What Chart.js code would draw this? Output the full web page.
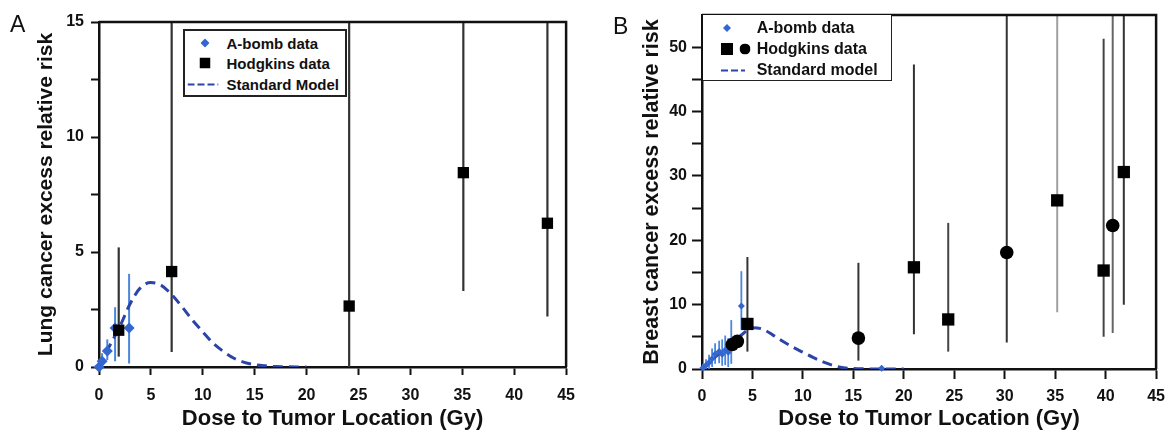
<!DOCTYPE html>
<html>
<head>
<meta charset="utf-8">
<script src="https://cdn.jsdelivr.net/npm/chart.js@4.4.1/dist/chart.umd.min.js"></script>
<style>
  html, body { margin:0; padding:0; background:#fff; }
  body { width:1173px; height:430px; position:relative; overflow:hidden; font-family:"Liberation Sans", Arial, sans-serif; }
  canvas { position:absolute; top:0; }
  #chartA { left:0; }
  #chartB { left:586px; }
  .panel { position:absolute; font-size:23px; line-height:23px; color:#111; }
  .legend { position:absolute; background:#fff; box-sizing:border-box; font-weight:bold; color:#111; }
  .legend .row { position:absolute; left:0; right:0; height:20px; }
  .legend .sym { position:absolute; top:50%; transform:translate(-50%,-50%); line-height:0; }
  .legend .txt { position:absolute; top:50%; transform:translateY(-50%); white-space:nowrap; }
</style>
</head>
<body>
<canvas id="chartA" width="586" height="430"></canvas>
<canvas id="chartB" width="587" height="430"></canvas>
<div class="panel" style="left:10px;top:13px;">A</div>
<div class="panel" style="left:613px;top:15px;">B</div>
<div class="legend" id="legendA" style="left:183px;top:29px;width:164px;height:68px;border:2px solid #222;font-size:15px;"></div>
<div class="legend" id="legendB" style="left:703px;top:15px;width:189px;height:66px;border-right:1.5px solid #222;border-bottom:1.5px solid #222;font-size:16px;"></div>
<script>
// ---- Panel A: lung cancer ----
const lungHodgkinsDose = [1.9, 7.0, 24.1, 35.1, 43.2];
const lungHodgkinsRisk = [1.6, 4.15, 2.65, 8.45, 6.25];
const lungHodgkinsLo   = [0.45, 0.65, 0, 3.3, 2.2];
const lungHodgkinsHi   = [5.2, 15, 15, 15, 15];

const lungBombDose = [0, 0.3, 0.8, 1.55, 2.9];
const lungBombRisk = [0, 0.25, 0.7, 1.7, 1.7];
const lungBombLo   = [null, 0, 0.3, 0.25, 0.15];
const lungBombHi   = [null, 0.6, 1.2, 2.6, 4.05];

const lungModelDose = [0, 1, 2, 3, 4, 5, 6, 7, 8, 9, 10, 11, 12, 13, 14, 15, 16, 17, 18, 19, 20];
const lungModelRisk = [0, 0.9, 1.75, 2.75, 3.45, 3.67, 3.55, 3.15, 2.62, 2.04, 1.53, 1.03, 0.67, 0.38, 0.2, 0.1, 0.05, 0.02, 0.01, 0, 0];

// ---- Panel B: breast cancer ----
const breastSqDose = [4.5, 21.0, 24.4, 35.2, 39.8, 41.8];
const breastSqRisk = [7.0, 15.8, 7.7, 26.2, 15.3, 30.6];
const breastSqLo   = [2.7, 5.4, 2.7, 8.8, 5.0, 10.0];
const breastSqHi   = [17.4, 47.3, 22.7, 55, 51.3, 55];
const breastSqErrColor = ['#333', '#333', '#444', '#a0a0a0', '#444', '#333'];

const breastCircDose = [3.0, 3.5, 15.5, 30.2, 40.7];
const breastCircRisk = [3.8, 4.3, 4.8, 18.1, 22.3];
const breastCircLo   = [null, null, 1.3, 4.1, 5.6];
const breastCircHi   = [null, null, 16.5, 55, 55];
const breastCircErrColor = ['#333', '#333', '#333', '#333', '#666'];

const breastBombDose = [0.1, 0.4, 0.7, 1.0, 1.3, 1.7, 2.0, 2.3, 2.6, 2.9, 3.9, 17.8];
const breastBombRisk = [0.2, 0.6, 1.0, 1.6, 2.3, 2.7, 2.3, 2.9, 2.6, 3.6, 9.8, 0.1];
const breastBombLo   = [0, 0, 0, 0.3, 0.8, 0.9, 0.5, 0.6, 0.3, 0.8, 6.1, null];
const breastBombHi   = [0.8, 1.5, 2.2, 3.2, 4.0, 4.4, 4.6, 5.2, 4.8, 7.6, 15.2, null];

const breastModelDose = [0, 1, 2, 3, 4, 5, 6, 7, 8, 9, 10, 11, 12, 13, 14, 15, 16, 17, 18, 19, 20];
const breastModelRisk = [0, 1.4, 2.8, 4.1, 5.4, 6.4, 6.2, 5.3, 4.3, 3.4, 2.6, 1.8, 1.1, 0.55, 0.2, 0.07, 0.02, 0.01, 0, 0, 0];

const BOMB_COLOR = '#3466d0';
const BOMB_ERR = '#4a86de';
const MODEL_COLOR = '#2c44a8';
const INK = '#111';

Chart.defaults.font.family = '"Liberation Sans", Arial, sans-serif';
Chart.defaults.color = INK;

const pts = (xs, ys) => xs.map((x, i) => ({ x, y: ys[i] }));

// vertical error bars drawn through the chart's own scales
const errorBars = {
  id: 'errorBars',
  beforeDatasetsDraw(chart) {
    const { ctx, chartArea: a, scales: { x, y } } = chart;
    ctx.save();
    ctx.beginPath();
    ctx.rect(a.left, a.top, a.width, a.height);
    ctx.clip();
    chart.data.datasets.forEach(ds => {
      if (!ds.errLo) return;
      ctx.lineWidth = ds.errWidth || 2;
      ds.data.forEach((p, j) => {
        if (ds.errLo[j] == null) return;
        const px = x.getPixelForValue(p.x);
        ctx.strokeStyle = Array.isArray(ds.errColor) ? ds.errColor[j] : ds.errColor;
        ctx.beginPath();
        ctx.moveTo(px, y.getPixelForValue(ds.errLo[j]));
        ctx.lineTo(px, y.getPixelForValue(ds.errHi[j]));
        ctx.stroke();
      });
    });
    ctx.restore();
  }
};

// top + right edges of the plot box
const frame = {
  id: 'frame',
  afterDraw(chart) {
    const { ctx, chartArea: a } = chart;
    ctx.save();
    ctx.strokeStyle = INK;
    ctx.lineWidth = 2.5;
    ctx.beginPath();
    ctx.moveTo(a.left, a.top);
    ctx.lineTo(a.right, a.top);
    ctx.lineTo(a.right, a.bottom);
    ctx.stroke();
    ctx.restore();
  }
};

function buildPanel(id, p) {
  return new Chart(document.getElementById(id), {
    type: 'scatter',
    data: { datasets: p.datasets },
    options: {
      responsive: false,
      animation: false,
      layout: { padding: p.padding },
      plugins: { legend: { display: false }, tooltip: { enabled: false } },
      scales: {
        x: {
          type: 'linear', min: 0, max: 45,
          ticks: { stepSize: 5, font: { size: 16, weight: 'bold' }, padding: p.xTickPad, color: INK },
          grid: { drawOnChartArea: false, tickLength: p.xTickLen, tickWidth: 2, tickColor: INK },
          border: { color: INK, width: 2.5 },
          title: { display: true, text: 'Dose to Tumor Location (Gy)', font: { size: 22, weight: 'bold', lineHeight: 1 }, padding: { top: 0, bottom: 0 }, color: INK },
          afterFit: s => { s.height = p.xHeight; }
        },
        y: {
          type: 'linear', min: 0, max: p.yMax,
          afterBuildTicks: s => { s.ticks = s.ticks.filter(t => p.yTicks.includes(t.value)); },
          ticks: { stepSize: p.yMinor, font: { size: 16, weight: 'bold' }, padding: p.yTickPad, color: INK,
                   callback: v => (v % p.yMajor === 0 ? v : '') },
          grid: { drawOnChartArea: false, tickLength: p.yTickLen, tickWidth: 2, tickColor: INK },
          border: { color: INK, width: 2.5 },
          title: { display: true, text: p.yTitle, font: { size: p.yTitleSize, weight: 'bold' }, padding: { top: p.yTitlePad, bottom: 0 }, color: INK },
          afterFit: s => { s.width = p.yWidth; }
        }
      }
    },
    plugins: [errorBars, frame]
  });
}

buildPanel('chartA', {
  padding: { top: 22, right: 11, left: 0, bottom: 0 },
  xHeight: 63, xTickLen: 8, xTickPad: 11,
  yWidth: 99, yTickLen: 8, yTickPad: 7,
  yMax: 15, yMinor: 2.5, yMajor: 5, yTicks: [0, 2.5, 5, 7.5, 10, 12.5, 15],
  yTitle: 'Lung cancer excess relative risk', yTitleSize: 21, yTitlePad: 34,
  datasets: [
    { label: 'Hodgkins data', data: pts(lungHodgkinsDose, lungHodgkinsRisk),
      pointStyle: 'rect', pointRadius: 8, backgroundColor: '#000', borderColor: '#000', borderWidth: 0,
      errLo: lungHodgkinsLo, errHi: lungHodgkinsHi, errColor: '#333', errWidth: 2.2, clip: false },
    { label: 'A-bomb data', data: pts(lungBombDose, lungBombRisk),
      pointStyle: 'rectRot', pointRadius: 5.5, backgroundColor: BOMB_COLOR, borderColor: BOMB_COLOR, borderWidth: 0,
      errLo: lungBombLo, errHi: lungBombHi, errColor: BOMB_ERR, errWidth: 2, clip: false },
    { label: 'Standard Model', type: 'line', data: pts(lungModelDose, lungModelRisk),
      borderColor: MODEL_COLOR, borderWidth: 3, borderDash: [10, 6], pointRadius: 0,
      cubicInterpolationMode: 'monotone', fill: false }
  ]
});

buildPanel('chartB', {
  padding: { top: 15, right: 13, left: 0, bottom: 0 },
  xHeight: 61, xTickLen: 10, xTickPad: 8,
  yWidth: 116, yTickLen: 10, yTickPad: 5,
  yMax: 55, yMinor: 5, yMajor: 10, yTicks: [0, 5, 10, 15, 20, 25, 30, 35, 40, 45, 50],
  yTitle: 'Breast cancer excess relative risk', yTitleSize: 21.5, yTitlePad: 53,
  datasets: [
    { label: 'Hodgkins data', data: pts(breastSqDose, breastSqRisk),
      pointStyle: 'rect', pointRadius: 8.7, backgroundColor: '#000', borderColor: '#000', borderWidth: 0,
      errLo: breastSqLo, errHi: breastSqHi, errColor: breastSqErrColor, errWidth: 2, clip: false },
    { label: 'Hodgkins data', data: pts(breastCircDose, breastCircRisk),
      pointStyle: 'circle', pointRadius: 6.8, backgroundColor: '#000', borderColor: '#000', borderWidth: 0,
      errLo: breastCircLo, errHi: breastCircHi, errColor: breastCircErrColor, errWidth: 2, clip: false },
    { label: 'A-bomb data', data: pts(breastBombDose, breastBombRisk),
      pointStyle: 'rectRot', pointRadius: 3.5, backgroundColor: BOMB_COLOR, borderColor: BOMB_COLOR, borderWidth: 0,
      errLo: breastBombLo, errHi: breastBombHi, errColor: BOMB_ERR, errWidth: 1.8, clip: false },
    { label: 'Standard model', type: 'line', data: pts(breastModelDose, breastModelRisk),
      borderColor: MODEL_COLOR, borderWidth: 3, borderDash: [10, 6], pointRadius: 0,
      cubicInterpolationMode: 'monotone', fill: false }
  ]
});

// ---- legends (HTML, inside the plot boxes) ----
const SYM = {
  diamond: s => `<svg width="${s}" height="${s}"><path d="M${s/2} 0L${s} ${s/2}L${s/2} ${s}L0 ${s/2}Z" fill="${BOMB_COLOR}"/></svg>`,
  square: s => `<svg width="${s}" height="${s}"><rect width="${s}" height="${s}" fill="#000"/></svg>`,
  circle: s => `<svg width="${s}" height="${s}"><circle cx="${s/2}" cy="${s/2}" r="${s/2}" fill="#000"/></svg>`,
  dash: w => `<svg width="${w}" height="4"><line x1="0" y1="2" x2="${w}" y2="2" stroke="${MODEL_COLOR}" stroke-width="2" stroke-dasharray="7 3"/></svg>`
};

function buildLegend(elId, rows, textX) {
  document.getElementById(elId).innerHTML = rows.map(r =>
    `<div class="row" style="top:${r.cy - 10}px">` +
      r.syms.map(s => `<span class="sym" style="left:${s.cx}px">${s.svg}</span>`).join('') +
      `<span class="txt" style="left:${textX}px">${r.text}</span></div>`
  ).join('');
}

buildLegend('legendA', [
  { cy: 11.5, text: 'A-bomb data', syms: [{ cx: 20, svg: SYM.diamond(9) }] },
  { cy: 32, text: 'Hodgkins data', syms: [{ cx: 20, svg: SYM.square(11) }] },
  { cy: 52.5, text: 'Standard Model', syms: [{ cx: 17.5, svg: SYM.dash(31) }] }
], 41.5);

buildLegend('legendB', [
  { cy: 13.3, text: 'A-bomb data', syms: [{ cx: 23.7, svg: SYM.diamond(8) }] },
  { cy: 34.3, text: 'Hodgkins data', syms: [{ cx: 24.3, svg: SYM.square(12) }, { cx: 42, svg: SYM.circle(11) }] },
  { cy: 55, text: 'Standard model', syms: [{ cx: 30.4, svg: SYM.dash(24) }] }
], 53.7);
</script>
</body>
</html>
